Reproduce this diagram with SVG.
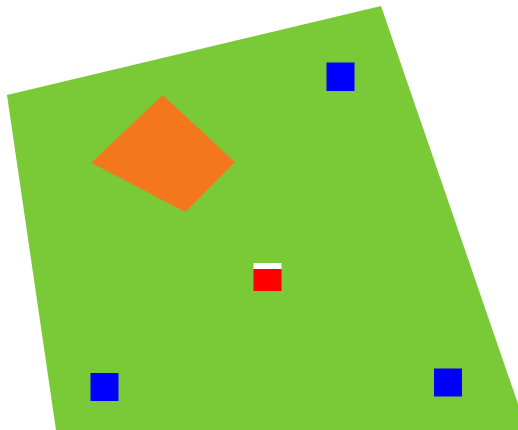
<svg xmlns="http://www.w3.org/2000/svg" width="518" height="430" viewBox="0 0 518 430">
<style>
.blue{fill:#0000ff}
</style>
<rect width="518" height="430" fill="#ffffff"/>
<polygon id="field" points="7,95 381,6 527,430 56,430" fill="#7ac936"/>
<polygon id="orange" points="162.7,95 235,162.3 185.3,212 91.3,162.7" fill="#f4771e"/>
<rect id="blue1" class="blue" x="326.5" y="62.5" width="28" height="28.5"/>
<rect id="blue2" class="blue" x="90.5" y="373" width="28" height="28"/>
<rect id="blue3" class="blue" x="434" y="368.5" width="28" height="28"/>
<g id="marker">
<rect x="253.5" y="263" width="28" height="6" fill="#ffffff"/>
<rect x="253.5" y="269" width="28" height="22" fill="#ff0000"/>
</g>
</svg>
